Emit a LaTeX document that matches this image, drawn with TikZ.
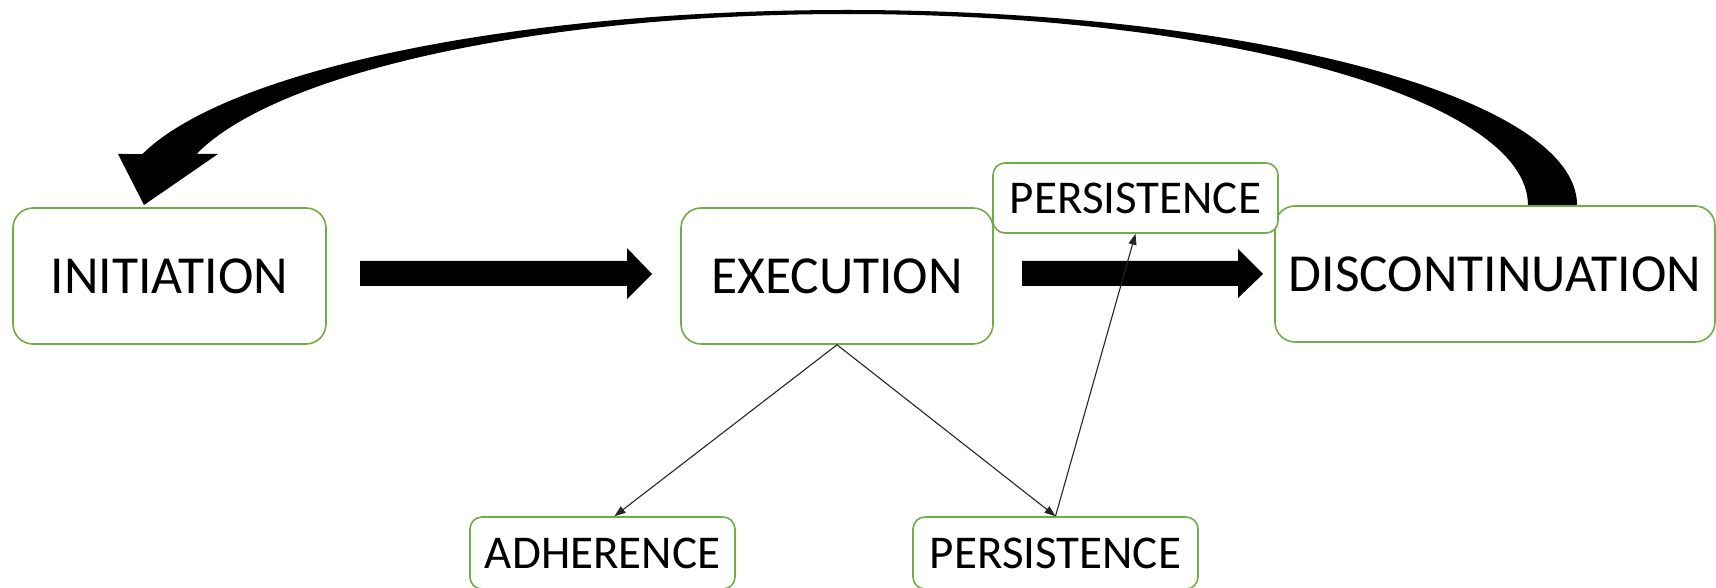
\documentclass[tikz,border=0pt]{standalone}
\usepackage{fontspec}
\setmainfont{Carlito}
\usetikzlibrary{arrows.meta,calc}
\definecolor{boxgreen}{RGB}{112,173,71}
\begin{document}
\begin{tikzpicture}[x=1pt,y=1pt,
  bigbox/.style={draw=boxgreen,line width=1.6pt,rounded corners=20pt,fill=white,inner sep=0pt,
    minimum height=136pt,font=\fontsize{53.5}{60}\selectfont},
  smallbox/.style={draw=boxgreen,line width=1.6pt,rounded corners=12pt,fill=white,inner sep=0pt,
    font=\fontsize{47}{52}\selectfont},
  link/.style={line width=1.1pt,draw=black!85,-{Triangle[length=11pt,width=8pt]}},
  blockarrow/.style={fill=black}]
\useasboundingbox (0,0) rectangle (1716,587);
\clip (0,0) rectangle (1716,587);
\fill[white] (0,0) rectangle (1716,587);

% big curved return arrow
\fill (1577,382) arc[start angle=0, end angle=164.84, x radius=730, y radius=195]
  -- (118,433) -- (144,382) -- (218,433) -- (196.5,433)
  arc[start angle=164.51, end angle=90, x radius=675, y radius=191]
  arc[start angle=90, end angle=0, x radius=681, y radius=191] -- cycle;

% nodes
\node[bigbox,minimum width=313pt] (ini) at (169.5,311) {INITIATION};
\node[bigbox,minimum width=312pt] (exe) at (837,311) {EXECUTION};
\node[bigbox,minimum width=440pt] (dis) at (1495,313) {DISCONTINUATION};
\node[smallbox,minimum width=285pt,minimum height=70pt] (per1) at (1135.5,389) {PERSISTENCE};
\node[smallbox,minimum width=265pt,minimum height=72pt] (adh) at (602.5,34) {ADHERENCE};
\node[smallbox,minimum width=285pt,minimum height=72pt] (per2) at (1055.5,34) {PERSISTENCE};

% block arrows
\fill[blockarrow] (360,326) -- (627,326) -- (627,339) -- (652,313) -- (627,288) -- (627,301) -- (360,301) -- cycle;
\fill[blockarrow] (1022,326) -- (1238,326) -- (1238,338) -- (1263,313) -- (1238,289) -- (1238,301) -- (1022,301) -- cycle;

% thin connectors
\draw[link] (exe.south) -- ($(adh.north)+(12,0)$);
\draw[link] (exe.south) -- (per2.north);
\draw[link] (per2.north) -- (per1.south);
\end{tikzpicture}
\end{document}
